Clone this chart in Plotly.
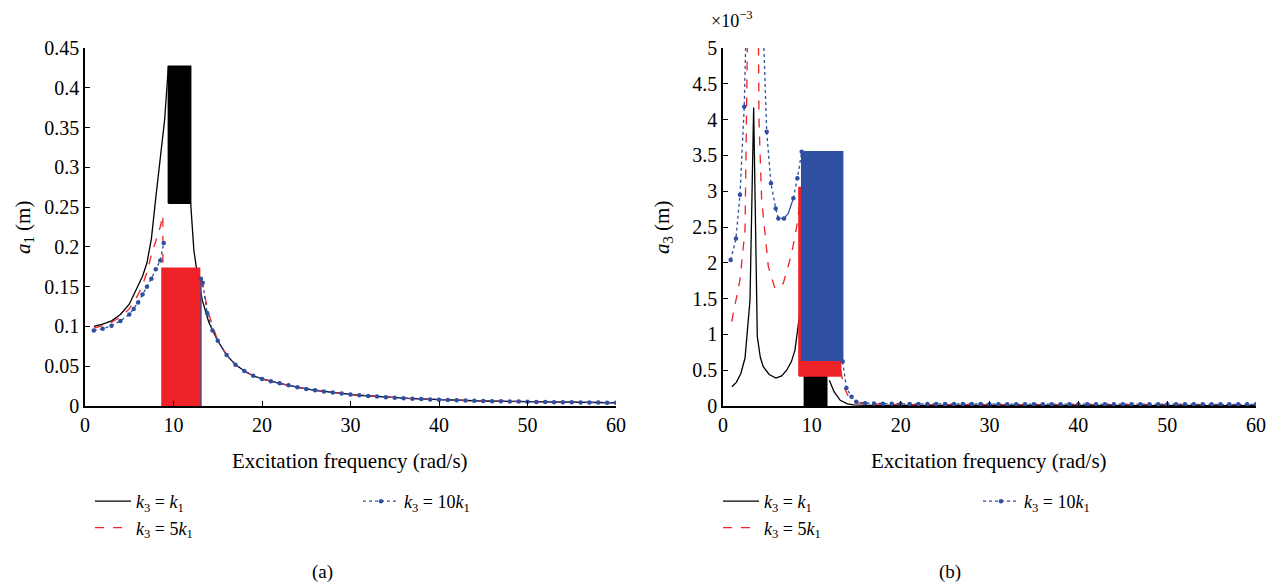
import plotly.graph_objects as go

# the page has an 8px body margin: figure coordinates = screen coordinates - 8
OFF = 8
W, H = 1283, 586
FONT = "Liberation Serif"
BLACK = "#000000"
RED = "#EE2227"
BLUE = "#2F4FA2"

# ---------------- Panel (a): a1 (m) ----------------
a1_k1_pre_x = [1, 2, 3, 4, 5, 5.5, 6, 6.5, 7, 7.5, 8, 8.5, 9, 9.42]
a1_k1_pre_y = [0.100, 0.103, 0.107, 0.115, 0.128, 0.140, 0.150, 0.163, 0.180, 0.210, 0.262, 0.310, 0.360, 0.427]
a1_k1_band = [9.42, 11.94, 0.255, 0.427]          # x0, x1, low, high
a1_k1_post_x = [11.94, 12.3, 12.7, 13.25, 14]
a1_k1_post_y = [0.255, 0.196, 0.165, 0.133, 0.105]

a1_k5_pre_x = [1, 2, 3, 4, 5, 6, 6.5, 7, 7.5, 8, 8.5, 8.8, 8.8]
a1_k5_pre_y = [0.098, 0.101, 0.105, 0.112, 0.122, 0.140, 0.152, 0.168, 0.190, 0.208, 0.225, 0.240, 0.173]
a1_k5_band = [8.7, 12.95, 0.0, 0.173]
a1_k5_post_x = [12.95, 13.3, 14]
a1_k5_post_y = [0.160, 0.150, 0.115]

a1_k10_pre_x = [1, 2, 3, 4, 5, 5.5, 6, 6.5, 7, 7.5, 8, 8.5, 8.9]
a1_k10_pre_y = [0.095, 0.097, 0.101, 0.107, 0.115, 0.122, 0.130, 0.140, 0.150, 0.160, 0.172, 0.183, 0.205]
a1_k10_band = [8.9, 13.1, 0.0, 0.160]
a1_k10_post_x = [13.1, 13.3, 13.8, 14.4]
a1_k10_post_y = [0.160, 0.155, 0.117, 0.095]

a1_tail_x = list(range(15, 61))
a1_tail_y = [0.082, 0.064, 0.052, 0.044, 0.038, 0.034, 0.031, 0.0285, 0.026, 0.0235,
             0.0215, 0.0198, 0.0183, 0.0170, 0.0157, 0.0145, 0.0135, 0.0126, 0.0118, 0.0110,
             0.0104, 0.0098, 0.0092, 0.0087, 0.0083, 0.0079, 0.0075, 0.0072, 0.0069, 0.0066,
             0.0063, 0.0061, 0.0059, 0.0057, 0.0055, 0.0053, 0.0051, 0.0050, 0.0048, 0.0047,
             0.0046, 0.0045, 0.0044, 0.0043, 0.0042, 0.0041]

# ---------------- Panel (b): a3 (x1e-3 m) ----------------
a3_k1_pre_x = [1.0, 1.5, 2.0, 2.48, 3.04, 3.45, 3.86, 4.2, 4.53, 5.2, 5.96, 6.6, 7.17, 7.7, 8.1, 8.48, 8.7]
a3_k1_pre_y = [0.27, 0.33, 0.45, 0.67, 1.48, 4.17, 0.97, 0.68, 0.55, 0.44, 0.39, 0.42, 0.50, 0.62, 0.78, 1.10, 1.35]
a3_k1_band = [9.16, 11.68, 0.0, 0.41]
a3_k1_post_x = [11.97, 12.5, 13.2, 14, 14.7, 16, 20, 30, 40, 50, 60]
a3_k1_post_y = [0.36, 0.20, 0.08, 0.03, 0.015, 0.010, 0.008, 0.006, 0.005, 0.005, 0.004]

a3_k5_pre_x = [0.98, 1.4, 1.91, 2.48, 2.74, 3.4, 4.0, 4.05, 4.2, 4.35, 5.1, 5.85, 6.78, 7.73, 8.29, 8.6, 8.6]
a3_k5_pre_y = [1.18, 1.45, 1.76, 2.46, 4.97, 9.0, 5.0, 4.0, 3.3, 2.88, 1.95, 1.64, 1.71, 2.13, 2.50, 2.80, 3.05]
a3_k5_band = [8.55, 13.25, 0.42, 3.05]
a3_k5_post_x = [13.25, 13.6, 14.2, 15, 16, 20, 30, 40, 50, 60]
a3_k5_post_y = [0.50, 0.27, 0.11, 0.05, 0.03, 0.02, 0.02, 0.02, 0.02, 0.02]

a3_k10_pre_x = [0.86, 1.46, 1.91, 2.39, 2.62, 3.5, 4.5, 4.92, 5.4, 5.93, 6.23, 6.87]
a3_k10_pre_y = [2.04, 2.34, 2.95, 4.18, 5.4, 9.0, 5.4, 3.83, 3.11, 2.76, 2.62, 2.62]
a3_k10_mid_x = [6.87, 7.35, 7.92]
a3_k10_mid_y = [2.62, 2.69, 2.90]
a3_k10_rise_x = [7.92, 8.37, 8.86]
a3_k10_rise_y = [2.90, 3.18, 3.55]
a3_k10_band = [8.86, 13.47, 0.64, 3.55]
a3_k10_post_x = [13.47, 13.9, 14.47, 15, 16] + list(range(17, 61))
a3_k10_post_y = [0.62, 0.25, 0.13, 0.06, 0.04,
                 0.035, 0.032, 0.030, 0.030, 0.029, 0.029, 0.028, 0.028, 0.028, 0.027,
                 0.027, 0.027, 0.027, 0.026, 0.026, 0.026, 0.026, 0.026, 0.025, 0.025,
                 0.025, 0.025, 0.025, 0.025, 0.025, 0.024, 0.024, 0.024, 0.024, 0.024,
                 0.024, 0.024, 0.024, 0.024, 0.023, 0.023, 0.023, 0.023, 0.023, 0.023,
                 0.023, 0.023, 0.023, 0.023]

x_ticks = [0, 10, 20, 30, 40, 50, 60]
a1_ticks = [0, 0.05, 0.1, 0.15, 0.2, 0.25, 0.3, 0.35, 0.4, 0.45]
a1_ticktext = ["0", "0.05", "0.1", "0.15", "0.2", "0.25", "0.3", "0.35", "0.4", "0.45"]
a3_ticks = [0, 0.5, 1, 1.5, 2, 2.5, 3, 3.5, 4, 4.5, 5]
a3_ticktext = ["0", "0.5", "1", "1.5", "2", "2.5", "3", "3.5", "4", "4.5", "5"]

LBL_K1 = "<i>k</i><sub>3</sub> = <i>k</i><sub>1</sub>"
LBL_K5 = "<i>k</i><sub>3</sub> = 5<i>k</i><sub>1</sub>"
LBL_K10 = "<i>k</i><sub>3</sub> = 10<i>k</i><sub>1</sub>"


def band_poly(b):
    x0, x1, lo, hi = b
    return [x0, x1, x1, x0, x0], [lo, lo, hi, hi, lo]


fig = go.Figure()


def line(x, y, color, dash, xa, ya, name=None, legend=None, markers=False, width=1.3):
    fig.add_trace(go.Scatter(
        x=x, y=y, xaxis=xa, yaxis=ya,
        mode="lines+markers" if markers else "lines",
        line=dict(color=color, dash=dash, width=width),
        marker=dict(size=4.5, color=color),
        name=name if name else "",
        showlegend=legend is not None,
        legend=legend if legend else "legend",
        hoverinfo="skip",
    ))


def band(b, color, xa, ya):
    bx, by = band_poly(b)
    fig.add_trace(go.Scatter(
        x=bx, y=by, xaxis=xa, yaxis=ya, mode="lines", fill="toself",
        fillcolor=color, line=dict(color=color, width=1.5),
        showlegend=False, hoverinfo="skip",
    ))


# Panel (a)
line(a1_k1_pre_x, a1_k1_pre_y, BLACK, "solid", "x", "y", LBL_K1, "legend")
band(a1_k1_band, BLACK, "x", "y")
line(a1_k1_post_x + a1_tail_x, a1_k1_post_y + a1_tail_y, BLACK, "solid", "x", "y")
band(a1_k10_band, BLUE, "x", "y")
band(a1_k5_band, RED, "x", "y")
line(a1_k5_pre_x, a1_k5_pre_y, RED, "dash", "x", "y", LBL_K5, "legend")
line(a1_k5_post_x + a1_tail_x, a1_k5_post_y + a1_tail_y, RED, "dash", "x", "y")
line(a1_k10_pre_x, a1_k10_pre_y, BLUE, "dot", "x", "y", LBL_K10, "legend2", markers=True)
line(a1_k10_post_x + a1_tail_x, a1_k10_post_y + a1_tail_y, BLUE, "dot", "x", "y", markers=True)

# Panel (b)
line(a3_k1_pre_x, a3_k1_pre_y, BLACK, "solid", "x2", "y2", LBL_K1, "legend3")
band(a3_k1_band, BLACK, "x2", "y2")
line(a3_k1_post_x, a3_k1_post_y, BLACK, "solid", "x2", "y2")
line(a3_k5_pre_x, a3_k5_pre_y, RED, "dash", "x2", "y2", LBL_K5, "legend3")
band(a3_k5_band, RED, "x2", "y2")
line(a3_k5_post_x, a3_k5_post_y, RED, "dash", "x2", "y2")
line(a3_k10_pre_x, a3_k10_pre_y, BLUE, "dot", "x2", "y2", LBL_K10, "legend4", markers=True)
line(a3_k10_mid_x, a3_k10_mid_y, BLUE, "solid", "x2", "y2")
line(a3_k10_rise_x, a3_k10_rise_y, BLUE, "dot", "x2", "y2", markers=True)
band(a3_k10_band, BLUE, "x2", "y2")
line(a3_k10_post_x, a3_k10_post_y, BLUE, "dot", "x2", "y2", markers=True)


def px(x):
    return (x - OFF) / W


def py(y):
    return 1 - (y - OFF) / H


TICK = 20
TXT = 21

axis_common = dict(
    showline=True, linecolor="black", linewidth=1.5, mirror=False,
    ticks="inside", ticklen=5, tickwidth=1.2, tickcolor="black",
    showgrid=False, zeroline=False, automargin=False,
    tickfont=dict(family=FONT, size=TICK, color="black"),
)

fig.update_layout(
    width=W, height=H,
    margin=dict(l=0, r=0, t=0, b=0),
    paper_bgcolor="white", plot_bgcolor="white",
    font=dict(family=FONT, color="black"),
    xaxis=dict(domain=[px(85), px(616)], range=[0, 60], tickvals=x_ticks, anchor="y", **axis_common),
    yaxis=dict(domain=[py(406), py(48)], range=[0, 0.45], tickvals=a1_ticks, ticktext=a1_ticktext,
               anchor="x", **axis_common),
    xaxis2=dict(domain=[px(723), px(1256)], range=[0, 60], tickvals=x_ticks, anchor="y2", **axis_common),
    yaxis2=dict(domain=[py(406), py(48)], range=[0, 5], tickvals=a3_ticks, ticktext=a3_ticktext,
                anchor="x2", **axis_common),
)

leg_common = dict(
    xanchor="left", yanchor="top", bgcolor="rgba(0,0,0,0)", borderwidth=0,
    font=dict(family=FONT, size=18, color="black"), tracegroupgap=0, orientation="v",
    itemwidth=36,
)
LEG_Y = 483
fig.update_layout(
    legend=dict(x=px(90), y=py(LEG_Y), **leg_common),
    legend2=dict(x=px(358), y=py(LEG_Y), **leg_common),
    legend3=dict(x=px(718), y=py(LEG_Y), **leg_common),
    legend4=dict(x=px(978), y=py(LEG_Y), **leg_common),
)


def note(x, y, text, size, angle=0):
    return dict(x=px(x), y=py(y), text=text, showarrow=False, textangle=angle,
                xref="paper", yref="paper", xanchor="center", yanchor="middle",
                font=dict(family=FONT, size=size, color="black"))


ann = [
    note(350, 461, "Excitation frequency (rad/s)", TXT),
    note(989, 461, "Excitation frequency (rad/s)", TXT),
    note(24, 228, "<i>a</i><sub>1</sub> (m)", TXT, -90),
    note(663, 228, "<i>a</i><sub>3</sub> (m)", TXT, -90),
    note(732, 20, "×10<sup>−3</sup>", 18),
    note(322, 572, "(a)", 19),
    note(950, 572, "(b)", 19),
]
fig.update_layout(annotations=ann)

fig.write_html("out.html")
